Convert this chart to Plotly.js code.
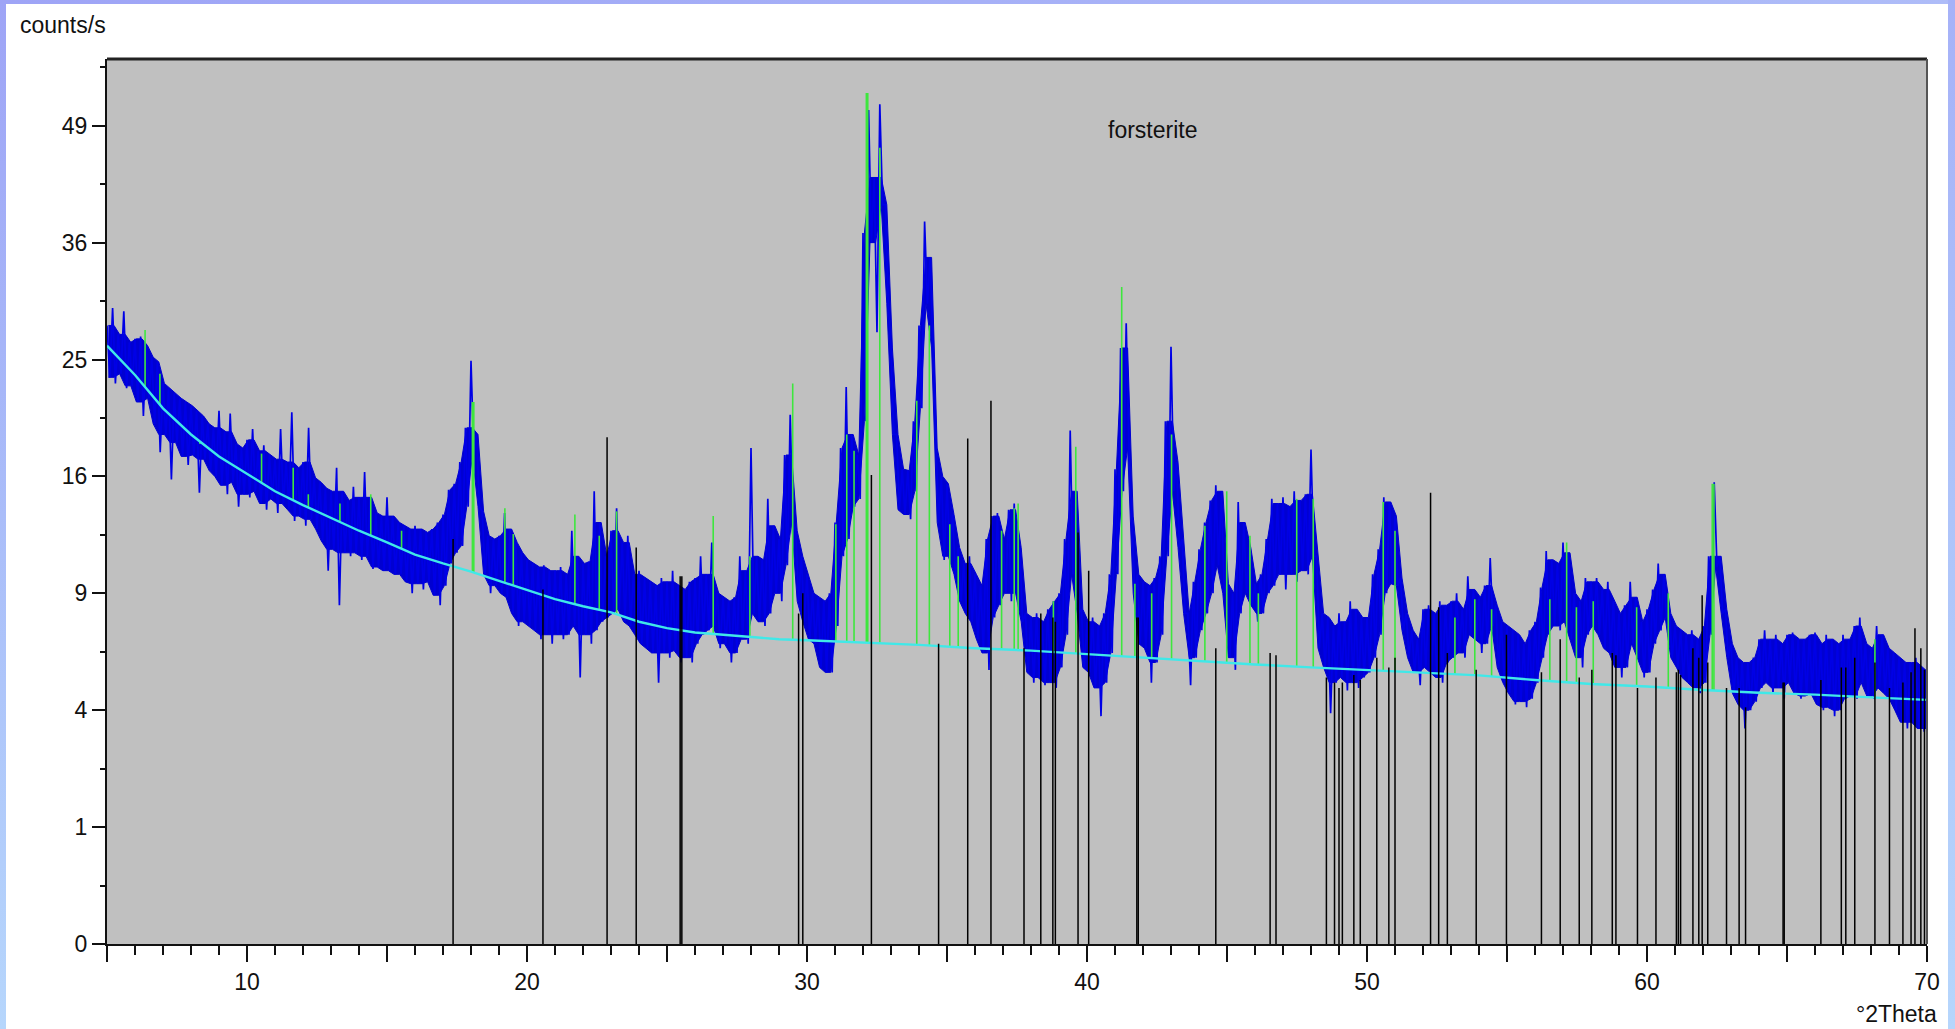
<!DOCTYPE html>
<html><head><meta charset="utf-8">
<script src="https://cdn.plot.ly/plotly-3.0.1.min.js"></script>
<style>
html,body{margin:0;padding:0;background:#fff;overflow:hidden}
#chart{width:1955px;height:1029px;position:absolute;left:0;top:0}
.strip{position:absolute;pointer-events:none}
</style></head><body>
<div id="chart"></div>
<div class="strip" style="left:0;top:0;width:6px;height:1029px;background:linear-gradient(to bottom,#9ea4f6,#b6d6fc)"></div>
<div class="strip" style="left:0;top:0;width:1955px;height:4px;background:linear-gradient(to right,#9ea4f6,#aebcf8)"></div>
<div class="strip" style="right:0;top:0;width:7px;height:1029px;background:linear-gradient(to bottom,#a6b2f8,#b6d6fc)"></div>
<script>
// ---- measured pattern: upper / lower edge of the noisy blue band, every 0.2 deg 2Theta from 5.0 ----
const blueStart = 5.0, blueStep = 0.2;
const blueHigh = [
 28.0,29.6,27.2,29.3,26.5, 26.8,27.0,26.2,25.2,24.8, 23.0,22.6,22.2,21.8,21.5, 21.2,20.8,20.4,19.8,19.5,
 20.8,19.2,20.6,18.3,18.0, 18.6,19.4,17.8,18.2,17.5, 17.2,19.4,17.0,20.7,16.6, 17.0,19.5,15.9,15.6,15.2,
 15.0,16.6,15.0,14.4,15.3, 14.6,16.3,14.6,13.6,13.4, 14.6,13.4,13.0,12.8,12.6, 12.8,12.6,12.4,12.6,13.0,
 13.5,15.1,15.5,17.0,19.5, 24.9,19.0,13.7,12.2,12.0, 12.2,13.6,12.6,11.8,11.2, 10.8,10.6,10.4,10.5,10.2,
 10.2,10.4,10.0,12.5,11.0, 10.6,10.7,15.0,13.0,11.0, 12.5,13.9,11.8,12.2,10.0, 10.2,9.8,9.6,9.4,9.8,
 9.6,10.2,9.4,9.2,9.6, 9.8,11.0,10.0,11.8,9.0, 8.8,8.6,8.8,11.0,10.2, 18.0,11.0,10.8,14.5,12.8,
 12.0,17.5,20.5,12.5,11.0, 10.0,9.0,8.8,8.6,9.0, 13.0,18.0,22.7,19.0,17.5, 37.0,50.9,43.0,51.6,40.0,
 26.0,19.0,16.5,16.4,20.0, 28.0,38.2,34.5,18.0,16.0, 15.5,13.5,11.5,10.6,11.0, 10.0,9.4,12.0,13.4,13.6,
 12.0,13.8,14.2,11.5,8.0, 7.8,8.0,7.6,8.2,8.6, 9.0,12.0,19.3,15.0,8.2, 7.6,7.8,7.4,8.0,10.0,
 16.5,26.0,28.2,13.4,10.0, 9.6,9.4,9.8,11.0,20.0, 26.1,17.0,12.0,8.0,9.6, 11.4,13.0,14.4,15.4,15.0,
 9.5,9.0,14.3,13.0,11.5, 9.5,10.0,12.0,14.5,14.2, 14.6,14.0,15.0,14.4,14.8, 17.9,11.0,8.0,7.8,7.4,
 8.0,7.6,8.6,8.2,7.8, 7.8,10.0,11.4,14.6,14.3, 13.4,9.8,8.0,7.2,6.8, 8.2,8.4,8.0,8.6,8.4,
 8.6,9.0,8.2,9.9,9.2, 8.8,9.4,10.9,8.4,7.6, 7.4,7.2,7.0,6.6,7.2, 7.6,9.3,11.3,10.8,10.6,
 11.8,11.2,9.0,8.6,9.8, 9.6,9.8,9.2,9.6,8.6, 8.0,8.4,9.6,8.8,7.6, 8.2,9.2,10.6,10.0,8.0,
 7.4,7.2,7.0,7.2,6.8, 7.4,11.0,15.6,11.0,8.2, 6.6,6.0,5.8,5.8,6.0, 6.8,7.2,6.8,7.0,6.6,
 7.0,7.1,6.8,6.8,7.0, 7.1,6.6,7.0,6.8,6.6, 7.0,6.8,7.4,7.8,6.6, 6.4,7.4,7.0,6.4,6.2,
 6.0,5.8,5.8,6.0,5.6, 5.4
];
const blueLow = [
 23.5,23.0,23.8,22.6,22.8, 21.5,20.4,21.8,19.8,17.7, 19.0,15.8,18.4,17.4,16.8, 17.5,14.9,17.2,16.4,16.0,
 15.4,14.8,15.6,14.0,14.8, 14.6,15.0,14.2,13.8,14.5, 13.6,14.2,13.8,13.1,13.4, 12.8,13.2,12.6,11.9,10.2,
 11.4,8.4,11.2,11.0,11.2, 10.8,11.0,10.3,10.4,10.2, 10.2,10.0,10.0,9.6,9.0, 9.5,9.2,9.6,8.9,8.4,
 9.4,10.6,11.2,11.6,14.0, 17.5,14.0,10.0,9.0,9.4, 9.0,8.8,8.0,7.4,7.6, 7.4,7.2,6.8,7.0,6.6,
 7.0,6.8,7.0,7.4,5.2, 7.0,6.6,7.2,7.6,7.8, 8.0,8.2,7.6,7.4,7.0, 6.6,6.4,6.2,5.0,6.2,
 6.0,6.3,5.8,6.0,5.8, 6.6,7.0,7.2,7.4,6.4, 6.6,5.8,6.2,6.8,6.6, 8.0,7.6,7.4,8.0,9.0,
 8.6,10.5,13.0,8.6,7.6, 6.8,6.6,5.6,5.4,5.4, 7.4,11.0,12.0,14.0,14.5, 20.0,36.0,27.4,40.0,30.0,
 19.0,13.8,13.5,13.2,15.0, 21.0,30.0,26.0,13.0,10.8, 11.0,10.0,8.6,8.0,7.6, 6.8,6.2,5.5,7.8,8.4,
 9.0,8.6,9.0,7.6,5.4, 5.0,5.2,4.9,5.0,4.8, 5.6,7.0,10.0,8.0,5.6, 5.4,4.8,3.8,5.0,6.2,
 10.0,15.0,18.0,9.0,6.6, 6.4,5.0,5.8,7.0,11.0, 15.0,11.5,8.0,4.9,6.0, 7.2,8.0,9.0,10.5,9.0,
 6.0,5.5,8.0,9.0,8.4, 7.6,8.0,9.0,9.4,10.0, 9.2,10.0,9.6,10.2,10.0, 11.0,6.4,5.6,3.9,5.0,
 5.2,4.7,5.0,4.8,5.2, 5.4,6.0,7.0,9.0,9.5, 9.4,7.2,6.0,5.4,4.9, 5.6,5.4,5.2,5.0,5.8,
 6.0,6.2,6.0,7.0,6.8, 6.2,6.6,7.4,5.6,5.0, 4.6,4.2,4.3,4.1,4.4, 5.0,6.0,7.0,7.4,7.2,
 7.6,6.8,6.0,5.6,7.0, 7.4,7.0,6.4,6.2,5.6, 5.2,5.6,6.6,6.0,5.2, 5.4,6.6,7.2,7.8,6.0,
 5.6,5.2,5.0,4.8,4.6, 5.0,7.0,10.4,8.0,6.0, 4.6,4.2,3.4,4.0,4.3, 4.8,5.0,4.6,4.8,4.4,
 5.0,4.6,4.4,4.5,4.6, 4.2,4.0,4.1,3.8,4.0, 4.4,4.5,4.4,5.0,4.5, 4.4,4.8,4.6,4.4,4.0,
 3.6,3.4,3.6,3.4,3.3, 3.4
];
// ---- fitted background (cyan) ----
const bgPos = [5,6,7,8,9,10,11,12,13,14,15,16,17,18,19,20,21,22,23,24,25,26,27,28,29,30,32,34,36,38,40,42,44,46,48,50,52,54,56,58,60,62,64,66,68,70];
const bgVal = [26.2,23.7,21.0,19.0,17.4,16.2,15.0,14.1,13.3,12.5,11.8,11.1,10.6,10.15,9.65,9.15,8.7,8.35,8.05,7.6,7.3,7.1,7.0,6.9,6.8,6.75,6.65,6.55,6.4,6.3,6.15,6.0,5.85,5.72,5.6,5.5,5.4,5.28,5.1,4.95,4.85,4.72,4.62,4.55,4.45,4.36];
// ---- detected peaks (green sticks, from background up to peak top) ----
const greenPos = [6.36,6.89,8.32,10.52,11.65,12.19,13.32,14.42,15.52,18.05,18.1,19.21,19.51,21.71,22.58,23.2,26.65,27.96,29.49,31.03,31.42,31.68,32.12,32.17,32.6,33.92,34.37,35.1,35.4,36.95,37.4,37.54,38.8,39.6,41.24,41.71,42.31,43.02,44.21,44.99,45.82,46.12,47.49,48.08,50.58,51.0,53.14,53.85,54.45,56.53,57.13,57.48,58.08,59.63,60.76,62.33,62.39,68.14];
const greenTop = [27.6,23.8,18.3,17.6,16.6,14.8,14.2,14.8,12.5,21.5,21.5,13.9,12.3,13.5,12.2,13.7,13.4,11.0,23.0,12.9,19.0,17.8,53.0,53.0,46.4,21.6,28.0,12.9,11.0,12.5,13.9,14.2,8.6,18.1,31.6,9.5,9.0,19.0,12.8,15.0,12.2,9.0,14.5,14.5,14.3,12.5,7.8,8.7,8.2,8.7,11.8,8.3,8.6,8.3,9.0,15.5,15.5,6.8];
// ---- forsterite reference lines (black sticks) ----
const refPos = [17.36,20.57,22.86,23.9,25.47,25.53,29.7,29.85,32.3,34.7,35.74,36.57,37.75,38.35,38.78,38.87,39.68,40.06,41.78,41.83,44.6,46.54,46.75,48.55,48.84,49.0,49.12,49.53,49.76,50.35,50.78,51.0,52.27,52.56,52.87,53.9,54.98,56.23,56.9,57.58,58.03,58.76,58.89,59.66,60.32,61.05,61.12,61.2,61.64,61.85,61.97,62.17,62.84,63.29,63.52,64.86,64.9,66.21,66.94,67.1,67.42,68.14,68.66,69.14,69.43,69.57,69.78,69.91];
const refHeight = [12.0,9.2,18.8,11.5,9.9,9.9,8.0,9.0,16.1,6.6,18.7,21.6,6.4,8.0,7.8,7.6,12.4,10.2,7.8,7.8,6.4,6.2,6.1,5.2,5.0,4.8,5.0,5.3,5.1,6.0,5.6,6.0,14.9,8.3,6.2,5.5,7.0,5.4,6.8,5.2,5.5,6.2,6.1,4.8,5.2,5.4,5.5,5.3,6.4,6.0,8.9,5.8,4.8,4.8,4.1,5.0,5.0,5.1,5.6,5.6,6.0,5.8,4.8,5.0,5.4,7.3,6.4,5.5];
// ---- axis ticks ----
const yTickCounts = [0,1,4,9,16,25,36,49];
const xTickVals = [5,10,15,20,25,30,35,40,45,50,55,60,65,70];
const xTickLabels = ['','10','','20','','30','','40','','50','','60','','70'];

const s = v => Math.sqrt(v);   // square-root intensity scale
function bgAt(x){
  for(let i=0;i<bgPos.length-1;i++){
    if(x>=bgPos[i] && x<=bgPos[i+1]){
      const t=(x-bgPos[i])/(bgPos[i+1]-bgPos[i]);
      return bgVal[i]+t*(bgVal[i+1]-bgVal[i]);
    }
  }
  return bgVal[bgVal.length-1];
}

// zig-zag trace (high, low, high, ...) plus a solid core: isolated spikes are left to the thin line only
const n = blueHigh.length;
const bx=[], by=[], cx=[], cHi=[], cLo=[];
for(let i=0;i<n;i++){
  const x=+(blueStart+i*blueStep).toFixed(2);
  const xl=+(x+blueStep/2).toFixed(2);
  bx.push(x, xl); by.push(s(blueHigh[i]), s(blueLow[i]));
  const a=Math.max(0,i-1), b=Math.min(n-1,i+1);
  let hi=Math.min(blueHigh[i], Math.max(blueHigh[a],blueHigh[b]));
  let lo=Math.max(blueLow[i], Math.min(blueLow[a],blueLow[b]));
  if(lo>hi){ const m=(lo+hi)/2; lo=m; hi=m; }
  cx.push(+(x+blueStep/4).toFixed(3)); cHi.push(s(hi)); cLo.push(s(lo));
}
const polyX = cx.concat(cx.slice().reverse());
const polyY = cHi.concat(cLo.slice().reverse());

const gx=[], gy=[];
greenPos.forEach((p,i)=>{ gx.push(p,p,null); gy.push(s(bgAt(p)), s(greenTop[i]), null); });
const kx=[], ky=[];
refPos.forEach((p,i)=>{ kx.push(p,p,null); ky.push(0, s(refHeight[i]), null); });

const blue = '#0000e6';
const traces = [
  {type:'scatter', mode:'lines', x:polyX, y:polyY, fill:'toself', fillcolor:'#0000d2', line:{color:'#0000d2', width:1}, hoverinfo:'skip'},
  {type:'scatter', mode:'lines', x:bx, y:by, line:{color:blue, width:1.7}, hoverinfo:'skip'},
  {type:'scatter', mode:'lines', x:gx, y:gy, line:{color:'#3ee63e', width:1.6}, connectgaps:false, hoverinfo:'skip'},
  {type:'scatter', mode:'lines', x:bgPos, y:bgVal.map(s), line:{color:'#40e8e8', width:2.4}, hoverinfo:'skip'},
  {type:'scatter', mode:'lines', x:kx, y:ky, line:{color:'#000000', width:1.5}, connectgaps:false, hoverinfo:'skip'}
];

const fontFam = 'Liberation Sans, Arial, sans-serif';
const layout = {
  width:1955, height:1029,
  margin:{l:107, r:28, t:59, b:85},
  paper_bgcolor:'#ffffff', plot_bgcolor:'#c0c0c0',
  showlegend:false,
  font:{family:fontFam, size:23, color:'#111'},
  xaxis:{
    range:[5,70], showgrid:false, zeroline:false, showline:true, linecolor:'#111', linewidth:2,
    ticks:'outside', tickmode:'array', tickvals:xTickVals, ticktext:xTickLabels,
    ticklen:16, tickwidth:2, tickcolor:'#111',
    tickfont:{family:fontFam, size:23, color:'#111'},
    minor:{ticks:'outside', tickmode:'linear', tick0:5, dtick:1, ticklen:9, tickwidth:2, tickcolor:'#111', showgrid:false}
  },
  yaxis:{
    range:[0,7.571], showgrid:false, zeroline:false, showline:true, linecolor:'#111', linewidth:2,
    ticks:'outside', tickmode:'array', tickvals:yTickCounts.map(s), ticktext:yTickCounts.map(String),
    ticklen:13, tickwidth:2, tickcolor:'#111',
    tickfont:{family:fontFam, size:23, color:'#111'},
    minor:{ticks:'outside', tickmode:'linear', tick0:0, dtick:0.5, ticklen:5, tickwidth:2, tickcolor:'#111', showgrid:false}
  },
  shapes:[
    {type:'line', xref:'paper', yref:'paper', x0:0, x1:1, y0:1, y1:1, line:{color:'#222', width:3}},
    {type:'line', xref:'paper', yref:'paper', x0:1, x1:1, y0:0, y1:1, line:{color:'#555', width:2}}
  ],
  annotations:[
    {text:'forsterite', xref:'x', yref:'y', x:40.68, y:6.963, xanchor:'left', yanchor:'middle', showarrow:false,
     font:{family:fontFam, size:23, color:'#111'}},
    {text:'counts/s', xref:'paper', yref:'paper', x:-0.0489, y:1.0384, xanchor:'left', yanchor:'middle', showarrow:false,
     font:{family:fontFam, size:23, color:'#111'}},
    {text:'°2Theta', xref:'paper', yref:'paper', x:1.0066, y:-0.0791, xanchor:'right', yanchor:'middle', showarrow:false,
     font:{family:fontFam, size:23, color:'#111'}}
  ]
};
Plotly.newPlot('chart', traces, layout, {staticPlot:true, displayModeBar:false});
</script>
</body></html>
